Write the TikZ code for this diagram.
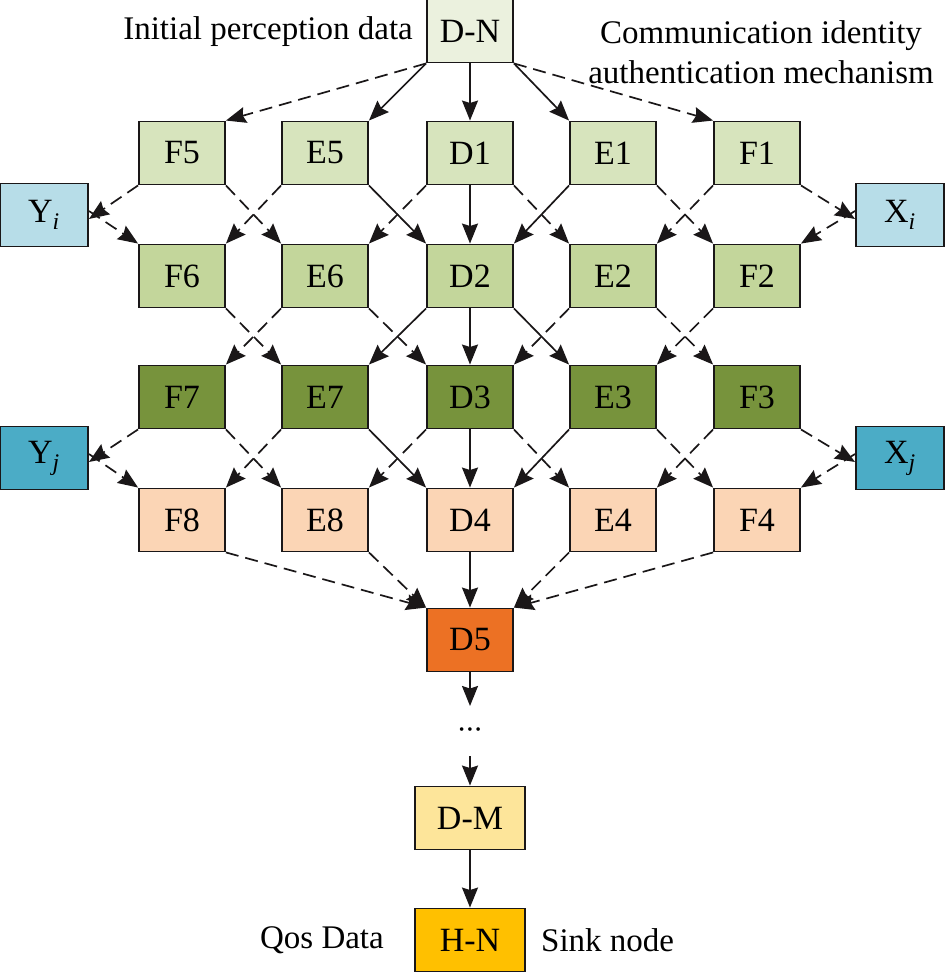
\documentclass[tikz,border=0pt]{standalone}
\usepackage{fontspec}
\setmainfont{Liberation Serif}
\usetikzlibrary{arrows.meta}
\definecolor{cDN}{HTML}{EBF1DE}
\definecolor{cR1}{HTML}{D7E4BD}
\definecolor{cR2}{HTML}{C3D69B}
\definecolor{cR3}{HTML}{77933C}
\definecolor{cR4}{HTML}{FBD5B5}
\definecolor{cD5}{HTML}{EC7124}
\definecolor{cDM}{HTML}{FDE59A}
\definecolor{cHN}{HTML}{FFC000}
\definecolor{cYi}{HTML}{B7DDE8}
\definecolor{cYj}{HTML}{4BACC6}
\definecolor{cLine}{HTML}{1A1718}
\begin{document}
\begin{tikzpicture}[x=1pt,y=-1pt,
  box/.style={draw=cLine, line width=1.9pt, minimum width=86pt, minimum height=63pt, inner sep=0pt, font=\fontsize{34}{38}\selectfont},
  sidebox/.style={box, minimum width=88pt},
  wide/.style={box, minimum width=110pt},
  lbl/.style={font=\fontsize{33}{40}\selectfont, inner sep=0pt},
  conn/.style={draw=cLine, line width=1.7pt, -{Stealth[length=20pt,width=16pt,inset=2.5pt]}},
  dsh/.style={conn, dash pattern=on 13pt off 7pt}]
\useasboundingbox (0,0) rectangle (945,973);
% nodes
\node[box, fill=cDN] (DN) at (470,31) {D-N};
\node[box, fill=cR1] (F5) at (182,153) {F5};
\node[box, fill=cR1] (E5) at (325,153) {E5};
\node[box, fill=cR1] (D1) at (470,153) {D1};
\node[box, fill=cR1] (E1) at (613,153) {E1};
\node[box, fill=cR1] (F1) at (757,153) {F1};
\node[box, fill=cR2] (F6) at (182,276) {F6};
\node[box, fill=cR2] (E6) at (325,276) {E6};
\node[box, fill=cR2] (D2) at (470,276) {D2};
\node[box, fill=cR2] (E2) at (613,276) {E2};
\node[box, fill=cR2] (F2) at (757,276) {F2};
\node[box, fill=cR3] (F7) at (182,397) {F7};
\node[box, fill=cR3] (E7) at (325,397) {E7};
\node[box, fill=cR3] (D3) at (470,397) {D3};
\node[box, fill=cR3] (E3) at (613,397) {E3};
\node[box, fill=cR3] (F3) at (757,397) {F3};
\node[box, fill=cR4] (F8) at (182,520) {F8};
\node[box, fill=cR4] (E8) at (325,520) {E8};
\node[box, fill=cR4] (D4) at (470,520) {D4};
\node[box, fill=cR4] (E4) at (613,520) {E4};
\node[box, fill=cR4] (F4) at (757,520) {F4};
\node[sidebox, fill=cYi] (Yi) at (44,215) {Y\textsubscript{\itshape i}};
\node[sidebox, fill=cYi] (Xi) at (900,215) {X\textsubscript{\itshape i}};
\node[sidebox, fill=cYj] (Yj) at (44,458) {Y\textsubscript{\itshape j}};
\node[sidebox, fill=cYj] (Xj) at (900,458) {X\textsubscript{\itshape j}};
\node[box, fill=cD5] (D5) at (470,640) {D5};
\node[inner sep=0pt, minimum height=50pt, outer sep=0pt, font=\fontsize{15}{16}\selectfont] (dots) at (470,731) {\textbullet\hspace{3pt}\textbullet\hspace{3pt}\textbullet};
\node[wide, fill=cDM] (DM) at (470,818) {D-M};
\node[wide, fill=cHN] (HN) at (470,940) {H-N};
% labels
\node[lbl, anchor=east] (t1) at (413,32) {Initial perception data};
\node[lbl, align=center] (t2) at (761,52) {Communication identity\\authentication mechanism};
\node[lbl, anchor=east] (t3) at (384,940) {Qos Data};
\node[lbl, anchor=west] (t4) at (541,940) {Sink node};
% D-N to row 1
\draw[dsh] (DN.south west) -- (F5.north east);
\draw[conn] (DN.south west) -- (E5.north east);
\draw[conn] (DN.south) -- (D1.north);
\draw[conn] (DN.south east) -- (E1.north west);
\draw[dsh] (DN.south east) -- (F1.north west);
% row 1 to row 2
\draw[dsh] (F5.south west) -- ([yshift=-4pt]Yi.east);
\draw[dsh] ([yshift=4pt]Yi.east) -- (F6.north west);
\draw[dsh] (F5.south east) -- (E6.north west);
\draw[dsh] (E5.south west) -- (F6.north east);
\draw[conn] (E5.south east) -- (D2.north west);
\draw[dsh] (D1.south west) -- (E6.north east);
\draw[conn] (D1.south) -- (D2.north);
\draw[dsh] (D1.south east) -- (E2.north west);
\draw[conn] (E1.south west) -- (D2.north east);
\draw[dsh] (E1.south east) -- (F2.north west);
\draw[dsh] (F1.south west) -- (E2.north east);
\draw[dsh] (F1.south east) -- ([yshift=-4pt]Xi.west);
\draw[dsh] ([yshift=4pt]Xi.west) -- (F2.north east);
% row 2 to row 3
\draw[dsh] (F6.south east) -- (E7.north west);
\draw[dsh] (E6.south west) -- (F7.north east);
\draw[dsh] (E6.south east) -- (D3.north west);
\draw[conn] (D2.south west) -- (E7.north east);
\draw[conn] (D2.south) -- (D3.north);
\draw[conn] (D2.south east) -- (E3.north west);
\draw[dsh] (E2.south west) -- (D3.north east);
\draw[dsh] (E2.south east) -- (F3.north west);
\draw[dsh] (F2.south west) -- (E3.north east);
% row 3 to row 4
\draw[dsh] (F7.south west) -- ([yshift=-4pt]Yj.east);
\draw[dsh] ([yshift=4pt]Yj.east) -- (F8.north west);
\draw[dsh] (F7.south east) -- (E8.north west);
\draw[dsh] (E7.south west) -- (F8.north east);
\draw[conn] (E7.south east) -- (D4.north west);
\draw[dsh] (D3.south west) -- (E8.north east);
\draw[conn] (D3.south) -- (D4.north);
\draw[dsh] (D3.south east) -- (E4.north west);
\draw[conn] (E3.south west) -- (D4.north east);
\draw[dsh] (E3.south east) -- (F4.north west);
\draw[dsh] (F3.south west) -- (E4.north east);
\draw[dsh] (F3.south east) -- ([yshift=-4pt]Xj.west);
\draw[dsh] ([yshift=4pt]Xj.west) -- (F4.north east);
% row 4 to D5
\draw[dsh] (F8.south east) -- (D5.north west);
\draw[dsh] (E8.south east) -- (D5.north west);
\draw[conn] (D4.south) -- (D5.north);
\draw[dsh] (E4.south west) -- (D5.north east);
\draw[dsh] (F4.south west) -- (D5.north east);
% chain
\draw[conn] (D5.south) -- (dots.north);
\draw[conn] (dots.south) -- (DM.north);
\draw[conn] (DM.south) -- (HN.north);
\end{tikzpicture}
\end{document}
